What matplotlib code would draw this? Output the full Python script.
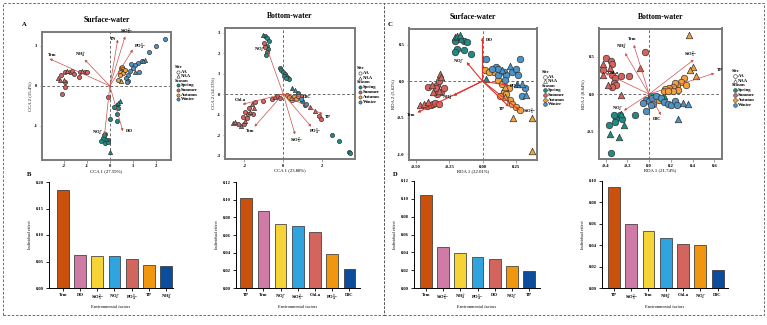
"""
CCA / RDA ordination plots with individual-effect bar charts
(surface vs bottom water).
"""

import matplotlib
matplotlib.use('Agg')
import matplotlib.pyplot as plt
from matplotlib.lines import Line2D
from matplotlib.patches import Rectangle
import numpy as np

plt.rcParams['font.family'] = ['Liberation Serif', 'DejaVu Serif']
plt.rcParams['font.weight'] = 'bold'
plt.rcParams['axes.unicode_minus'] = False
plt.rcParams['mathtext.fontset'] = 'custom'
plt.rcParams['mathtext.rm'] = 'Liberation Serif:bold'
plt.rcParams['mathtext.it'] = 'Liberation Serif:bold'
plt.rcParams['mathtext.bf'] = 'Liberation Serif:bold'
plt.rcParams['mathtext.default'] = 'rm'

# ---------------- data ----------------
NO2 = r'NO$_2^-$'
NH4 = r'NH$_4^+$'
SIO3 = r'SiO$_3^{2-}$'
PO4 = r'PO$_4^{3-}$'

# Panel A: CCA surface water  (x, y, site)
A_spring = [(0.42, -0.37, 'NAA'), (0.37, -0.43, 'NAA'), (0.32, -0.48, 'AA'), (0.23, -0.53, 'AA'),
            (0.34, -0.55, 'AA'), (0.17, -0.52, 'AA'), (0.29, -0.70, 'AA'), (-0.01, -0.82, 'AA'),
            (0.32, -0.87, 'AA'), (-0.23, -1.20, 'AA'), (-0.30, -1.30, 'AA'), (-0.16, -1.32, 'NAA'),
            (-0.06, -1.34, 'AA'), (-0.37, -1.38, 'AA'), (-0.23, -1.43, 'AA'), (-0.09, -1.40, 'AA'),
            (-0.26, -1.23, 'AA'), (0.0, -1.65, 'NAA')]
A_summer = [(-2.24, 0.20, 'NAA'), (-2.10, 0.28, 'AA'), (-1.95, 0.35, 'AA'), (-1.84, 0.38, 'NAA'),
            (-1.74, 0.34, 'AA'), (-1.64, 0.37, 'AA'), (-1.55, 0.30, 'AA'), (-1.98, 0.16, 'NAA'),
            (-2.16, 0.15, 'NAA'), (-1.95, 0.10, 'AA'), (-1.31, 0.34, 'AA'), (-1.21, 0.38, 'NAA'),
            (-1.09, 0.35, 'AA'), (-0.98, 0.35, 'AA'), (-1.35, 0.22, 'AA'), (-1.93, -0.03, 'AA'),
            (-2.07, -0.20, 'AA'), (-0.06, -0.28, 'AA')]
A_autumn = [(0.46, 0.45, 'AA'), (0.52, 0.47, 'AA'), (0.57, 0.43, 'AA'), (0.49, 0.38, 'AA'),
            (0.60, 0.38, 'AA'), (0.43, 0.35, 'AA'), (0.55, 0.33, 'AA'), (0.66, 0.40, 'AA'),
            (0.42, 0.28, 'AA'), (0.34, 0.16, 'AA'), (0.46, 0.12, 'NAA')]
A_winter = [(2.36, 1.18, 'AA'), (2.00, 0.99, 'AA'), (1.71, 0.85, 'AA'), (1.52, 0.66, 'NAA'),
            (1.38, 0.63, 'AA'), (1.21, 0.58, 'AA'), (1.09, 0.53, 'AA'), (0.99, 0.45, 'AA'),
            (0.85, 0.38, 'AA'), (0.78, 0.28, 'AA'), (0.70, 0.20, 'AA'), (0.80, 0.13, 'AA'),
            (1.09, 0.35, 'NAA'), (1.24, 0.35, 'AA'), (0.92, 0.55, 'AA'), (0.72, 0.10, 'AA'),
            (1.42, 0.62, 'NAA')]
A_arrows = [('Tem', -2.60, 0.68), (NH4, -1.09, 0.66), ('TN', 0.34, 1.16), (SIO3, 0.66, 1.24),
            (PO4, 0.99, 0.91), (NO2, -0.23, -1.22), ('DO', 0.56, -1.13)]

# Panel A2: CCA bottom water
A2_spring = [(-1.04, 2.88, 'NAA'), (-0.92, 2.81, 'AA'), (-0.82, 2.72, 'AA'), (-0.75, 2.59, 'AA'),
             (-0.83, 2.36, 'AA'), (-0.78, 2.20, 'AA'), (-0.82, 2.03, 'AA'), (-0.87, 1.90, 'AA'),
             (-0.17, 1.28, 'AA'), (-0.09, 1.15, 'AA'), (0.0, 1.06, 'AA'), (0.09, 0.96, 'AA'),
             (0.16, 0.89, 'AA'), (0.23, 0.80, 'AA'), (0.30, 0.72, 'AA'), (0.02, 0.89, 'AA'),
             (0.14, 0.76, 'AA'), (0.47, 0.28, 'NAA'), (0.75, 0.03, 'AA'), (0.99, -0.34, 'AA'),
             (1.13, -0.54, 'AA'), (2.52, -2.00, 'AA'), (2.87, -2.29, 'AA'), (3.39, -2.81, 'AA'),
             (3.46, -2.89, 'AA')]
A2_summer = [(-0.99, 2.47, 'AA'), (-0.92, 2.31, 'AA'), (-2.61, -1.43, 'NAA'), (-2.49, -1.35, 'NAA'),
             (-2.31, -1.48, 'AA'), (-2.17, -1.54, 'NAA'), (-2.03, -1.45, 'AA'), (-1.97, -1.32, 'NAA'),
             (-1.86, -1.19, 'AA'), (-1.79, -0.99, 'AA'), (-1.69, -0.89, 'NAA'), (-1.58, -0.99, 'AA'),
             (-1.48, -0.70, 'NAA'), (-2.09, -1.11, 'AA'), (-1.97, -0.89, 'AA'), (-1.76, -0.67, 'AA'),
             (-1.60, -0.50, 'NAA'), (-1.44, -0.41, 'AA'), (-1.04, -0.34, 'AA'), (-0.57, -0.24, 'AA'),
             (-0.43, -0.16, 'NAA'), (-0.30, -0.11, 'AA'), (-0.17, -0.21, 'AA'), (0.92, -0.08, 'AA'),
             (1.39, -0.62, 'NAA'), (1.62, -0.83, 'NAA'), (1.86, -1.06, 'AA'), (1.97, -1.22, 'AA')]
A2_autumn = [(0.17, -0.05, 'AA'), (0.30, -0.13, 'AA'), (0.40, -0.21, 'NAA'), (0.54, -0.11, 'AA'),
             (0.64, -0.24, 'AA'), (0.47, -0.31, 'AA'), (0.78, -0.08, 'AA')]
A2_winter = [(0.61, 0.20, 'NAA'), (0.92, -0.24, 'AA'), (1.17, -0.50, 'AA')]
A2_arrows = [(NO2, -0.78, 2.07), ('Chl-a', -2.09, -0.50), ('Tem', -1.48, -1.59), (SIO3, 0.61, -1.97),
             (PO4, 1.44, -1.59), ('TP', 2.03, -0.99), ('DIC', 0.87, -0.13)]

# Panel C: RDA surface water
C_spring = [(-0.21, 0.60, 'NAA'), (-0.19, 0.62, 'NAA'), (-0.18, 0.59, 'AA'), (-0.16, 0.58, 'NAA'),
            (-0.14, 0.55, 'AA'), (-0.21, 0.55, 'AA'), (-0.19, 0.44, 'AA'), (-0.21, 0.40, 'AA'),
            (-0.14, 0.43, 'AA'), (-0.09, 0.37, 'AA'), (0.03, 0.03, 'NAA'), (-0.17, 0.63, 'NAA'),
            (-0.12, 0.53, 'AA')]
C_summer = [(-0.41, -0.08, 'AA'), (-0.38, -0.05, 'NAA'), (-0.34, -0.06, 'AA'), (-0.32, 0.10, 'NAA'),
            (-0.31, 0.05, 'NAA'), (-0.33, 0.0, 'AA'), (-0.35, -0.10, 'AA'), (-0.33, -0.13, 'NAA'),
            (-0.31, -0.15, 'AA'), (-0.34, -0.17, 'AA'), (-0.37, -0.15, 'NAA'), (-0.29, -0.10, 'AA'),
            (-0.47, -0.33, 'NAA'), (-0.44, -0.32, 'NAA'), (-0.42, -0.34, 'AA'), (-0.39, -0.33, 'AA'),
            (-0.37, -0.32, 'AA'), (-0.36, -0.30, 'AA'), (-0.33, -0.31, 'AA'), (-0.41, -0.29, 'NAA')]
C_autumn = [(0.02, 0.15, 'AA'), (0.12, 0.01, 'AA'), (0.15, -0.04, 'AA'), (0.17, -0.08, 'NAA'),
            (0.20, -0.10, 'AA'), (0.16, -0.15, 'AA'), (0.13, -0.20, 'AA'), (0.17, -0.22, 'NAA'),
            (0.21, -0.26, 'AA'), (0.22, -0.31, 'AA'), (0.25, -0.35, 'AA'), (0.28, -0.39, 'AA'),
            (0.23, -0.51, 'NAA'), (0.37, -0.51, 'NAA'), (0.37, -0.96, 'NAA'), (0.18, -0.17, 'AA'),
            (0.09, 0.12, 'AA'), (0.05, 0.12, 'AA')]
C_winter = [(0.03, 0.30, 'AA'), (0.10, 0.19, 'AA'), (0.12, 0.17, 'AA'), (0.15, 0.15, 'NAA'),
            (0.16, 0.12, 'AA'), (0.18, 0.08, 'AA'), (0.22, 0.12, 'AA'), (0.25, 0.17, 'AA'),
            (0.27, 0.08, 'AA'), (0.30, -0.04, 'NAA'), (0.32, -0.10, 'AA'), (0.33, -0.19, 'NAA'),
            (0.21, 0.21, 'NAA'), (0.28, 0.30, 'AA'), (0.12, 0.08, 'AA'), (0.17, 0.01, 'AA'),
            (0.30, -0.20, 'AA'), (0.26, -0.04, 'NAA'), (0.07, 0.17, 'AA')]
C_arrows = [('DO', 0.0, 0.60), (NO2, -0.12, 0.26), ('Tem', -0.49, -0.43), (NH4, -0.22, -0.20),
            ('TP', 0.20, -0.35), (SIO3, 0.28, -0.40), (PO4, 0.20, -0.06)]

# Panel C2: RDA bottom water
C2_spring = [(0.14, -0.02, 'NAA'), (0.02, -0.02, 'AA'), (-0.27, -0.28, 'AA'), (-0.30, -0.32, 'AA'),
             (-0.25, -0.34, 'AA'), (-0.31, -0.37, 'AA'), (-0.37, -0.41, 'AA'), (-0.23, -0.41, 'NAA'),
             (-0.13, -0.28, 'AA'), (-0.36, -0.54, 'NAA'), (-0.28, -0.58, 'NAA'), (-0.35, -0.79, 'AA'),
             (-0.26, -0.27, 'NAA'), (-0.32, -0.28, 'AA')]
C2_summer = [(-0.40, 0.49, 'AA'), (-0.42, 0.40, 'NAA'), (-0.35, 0.44, 'AA'), (-0.34, 0.40, 'AA'),
             (-0.42, 0.32, 'AA'), (-0.42, 0.26, 'NAA'), (-0.36, 0.35, 'NAA'), (-0.34, 0.26, 'AA'),
             (-0.31, 0.22, 'AA'), (-0.38, 0.12, 'NAA'), (-0.32, 0.15, 'AA'), (-0.30, 0.12, 'AA'),
             (-0.34, 0.10, 'AA'), (-0.26, 0.24, 'AA'), (-0.26, -0.01, 'NAA'), (-0.18, 0.24, 'AA'),
             (-0.04, 0.57, 'AA'), (-0.08, 0.35, 'NAA')]
C2_autumn = [(0.37, 0.79, 'NAA'), (0.40, 0.37, 'NAA'), (0.38, 0.32, 'NAA'), (0.43, 0.24, 'NAA'),
             (0.32, 0.22, 'AA'), (0.29, 0.16, 'AA'), (0.26, 0.12, 'AA'), (0.24, 0.15, 'AA'),
             (0.22, 0.10, 'AA'), (0.18, 0.08, 'AA'), (0.15, 0.07, 'AA'), (0.14, 0.04, 'AA'),
             (0.27, 0.06, 'AA'), (0.34, 0.12, 'AA'), (0.22, 0.04, 'AA'), (0.17, 0.04, 'AA'),
             (0.09, -0.08, 'AA')]
C2_winter = [(-0.03, -0.08, 'AA'), (0.0, -0.09, 'AA'), (0.03, -0.05, 'AA'), (0.04, -0.13, 'AA'),
             (0.02, -0.15, 'AA'), (0.06, -0.03, 'AA'), (0.11, -0.05, 'AA'), (0.14, -0.10, 'AA'),
             (0.17, -0.13, 'AA'), (0.20, -0.14, 'AA'), (0.24, -0.09, 'AA'), (0.26, -0.14, 'AA'),
             (0.31, -0.12, 'NAA'), (0.36, -0.13, 'NAA'), (0.27, -0.34, 'NAA'), (-0.03, -0.23, 'AA'),
             (-0.06, -0.12, 'AA')]
C2_arrows = [('Tem', -0.14, 0.66), (NH4, -0.22, 0.55), ('Chl-a', -0.40, 0.28), (SIO3, 0.41, 0.46),
             ('TP', 0.60, 0.28), (NO2, -0.23, -0.22), ('DIC', 0.11, -0.28)]

# Individual effects (bar panels)
B_factors = ['Tem', 'DO', SIO3, NO2, PO4, 'TP', NH4]
B_effect = [0.184, 0.063, 0.060, 0.060, 0.055, 0.043, 0.041]
B2_factors = ['TP', 'Tem', NO2, SIO3, 'Chl-a', PO4, 'DIC']
B2_effect = [0.102, 0.087, 0.072, 0.070, 0.063, 0.0385, 0.021]
D_factors = ['Tem', SIO3, NH4, PO4, 'DO', NO2, 'TP']
D_effect = [0.104, 0.046, 0.039, 0.035, 0.032, 0.025, 0.0186]
D2_factors = ['TP', SIO3, 'Tem', NH4, 'Chl-a', NO2, 'DIC']
D2_effect = [0.094, 0.060, 0.053, 0.047, 0.041, 0.040, 0.017]

# ---------------- style ----------------
W, H = 767, 325
SEASON_COLORS = {'Spring': '#1E8C84', 'Summer': '#D8625C', 'Autumn': '#F2A23C', 'Winter': '#4C93C6'}
SITE_MARKERS = {'AA': 'o', 'NAA': '^'}
BAR_COLORS = ['#C9510C', '#CF7BA6', '#F7D436', '#2FA4DF', '#D2665E', '#F1970F', '#0C4C9C']
FRAME = '#7A7A7A'

fig = plt.figure(figsize=(W / 100, H / 100), dpi=100)


def px_axes(l, t, r, b):
    return fig.add_axes([l / W, 1 - b / H, (r - l) / W, (b - t) / H])


def fig_text(x, y, s, **kw):
    fig.text(x / W, 1 - y / H, s, **kw)


def ordination(ax, seasons, arrows, xlim, ylim, xticks, yticks, xfmt, yfmt,
               xlabel, ylabel, title, size, arrow_color, arrow_lw, nudges=None):
    nudges = nudges or {}
    for season, pts in seasons.items():
        for site, m in SITE_MARKERS.items():
            sel = [p for p in pts if p[2] == site]
            if not sel:
                continue
            ax.scatter([p[0] for p in sel], [p[1] for p in sel], s=size, marker=m,
                       color=SEASON_COLORS[season], edgecolor='#333333', linewidth=0.5,
                       zorder=3)
    ax.axhline(0, color='#333333', lw=0.5, ls=(0, (4, 3)), zorder=1)
    ax.axvline(0, color='#333333', lw=0.5, ls=(0, (4, 3)), zorder=1)
    xr = xlim[1] - xlim[0]
    yr = ylim[1] - ylim[0]
    for name, x, y in arrows:
        ax.annotate('', xy=(x, y), xytext=(0, 0),
                    arrowprops=dict(arrowstyle='-|>', color=arrow_color, lw=arrow_lw,
                                    mutation_scale=3.5, shrinkA=0, shrinkB=0), zorder=4)
        d = np.hypot(x / xr, y / yr)
        off = nudges.get(name, (4.5 * (x / xr) / d, 4.5 * (y / yr) / d))
        ax.annotate(name, xy=(x, y), xytext=off, textcoords='offset points',
                    fontsize=3.3, ha='center', va='center', zorder=5)
    ax.set_xlim(xlim)
    ax.set_ylim(ylim)
    ax.set_xticks(xticks)
    ax.set_xticklabels([xfmt % v for v in xticks])
    ax.set_yticks(yticks)
    ax.set_yticklabels([yfmt % v for v in yticks])
    ax.tick_params(labelsize=3.4, length=1.8, width=0.5, pad=1.5, color=FRAME)
    for s in ax.spines.values():
        s.set_color(FRAME)
        s.set_linewidth(1.4)
    ax.set_xlabel(xlabel, fontsize=3.4, labelpad=0.5)
    ax.set_ylabel(ylabel, fontsize=3.4, labelpad=1)
    ax.set_title(title, fontsize=5.5, fontweight='bold', pad=7)


def key(x, y, step, msize):
    fig_text(x, y, 'Site', fontsize=3.3, va='center')
    rows = [('AA', 'o', 'white'), ('NAA', '^', 'white')]
    for i, (lab, m, c) in enumerate(rows):
        yy = y + step * (i + 1)
        fig.add_artist(Line2D([(x + 2.5) / W], [1 - yy / H], marker=m, color='none',
                              markerfacecolor=c, markeredgecolor='#333333',
                              markeredgewidth=0.4, markersize=msize))
        fig_text(x + 5.5, yy, lab, fontsize=3.3, va='center')
    fig_text(x, y + step * 3, 'Season', fontsize=3.3, va='center')
    for i, (lab, c) in enumerate(SEASON_COLORS.items()):
        yy = y + step * (i + 4)
        fig.add_artist(Line2D([(x + 2.5) / W], [1 - yy / H], marker='o', color='none',
                              markerfacecolor=c, markeredgecolor='#333333',
                              markeredgewidth=0.4, markersize=msize))
        fig_text(x + 5.5, yy, lab, fontsize=3.3, va='center')


def bars(ax, labels, values, ymax, ystep, xlim):
    x = np.arange(len(values))
    ax.bar(x, values, width=0.68, color=BAR_COLORS, edgecolor='#2b2b2b', linewidth=0.5)
    ax.set_xlim(xlim)
    ax.set_ylim(0, ymax)
    yt = np.arange(0, ymax + 1e-9, ystep)
    ax.set_yticks(yt)
    ax.set_yticklabels(['%.2f' % v for v in yt])
    ax.set_xticks(x)
    ax.set_xticklabels(labels)
    for s in ['top', 'right']:
        ax.spines[s].set_visible(False)
    for s in ['left', 'bottom']:
        ax.spines[s].set_linewidth(0.7)
    ax.tick_params(labelsize=3.3, length=2, width=0.6, pad=1.5)
    ax.set_xlabel('Environmental factors', fontsize=3.2, labelpad=1)
    ax.set_ylabel('Individual effect', fontsize=3.2, labelpad=3)


# ---------------- ordination panels ----------------
axA = px_axes(42, 32, 171, 159.5)
ordination(axA, {'Spring': A_spring, 'Summer': A_summer, 'Autumn': A_autumn, 'Winter': A_winter},
           A_arrows, (-2.93, 2.64), (-1.84, 1.35), [-2, -1, 0, 1, 2], [1, 0, -1], '%d', '%d',
           'CCA 1 (27.59%)', 'CCA 2 (15.4%)', 'Surface-water', 9, '#C9504A', 0.5,
           nudges={'TN': (-3.5, 0.5), SIO3: (1, 3.5), PO4: (5, 2), 'Tem': (2, 3),
                   NO2: (-5, 1), 'DO': (4.5, 0)})
key(175, 67, 4.6, 2.3)

axA2 = px_axes(225, 28, 355, 159)
ordination(axA2, {'Spring': A2_spring, 'Summer': A2_summer, 'Autumn': A2_autumn, 'Winter': A2_winter},
           A2_arrows, (-3.0, 3.7), (-3.17, 3.22), [-2, 0, 2], [3, 2, 1, 0, -1, -2, -3], '%d', '%d',
           'CCA 1 (23.88%)', 'CCA 2 (14.13%)', 'Bottom-water', 9, '#C9504A', 0.5,
           nudges={NO2: (-6, 1), 'Chl-a': (-2, 3), 'DIC': (5, 0)})
key(357, 68, 4.8, 2.3)

axC = px_axes(409, 28.5, 537, 160)
ordination(axC, {'Spring': C_spring, 'Summer': C_summer, 'Autumn': C_autumn, 'Winter': C_winter},
           C_arrows, (-0.553, 0.41), (-1.08, 0.72), [-0.5, -0.25, 0, 0.25], [0.5, 0, -0.5, -1.0],
           '%.2f', '%.1f', 'RDA 1 (22.01%)', 'RDA 2 (5.62%)', 'Surface-water', 22, '#E0352F', 0.8,
           nudges={'DO': (5, -2), NO2: (-6, 0), 'TP': (-5, -2), SIO3: (7, -1)})
key(542, 72, 4.6, 2.7)

axC2 = px_axes(599, 28.5, 722, 159)
ordination(axC2, {'Spring': C2_spring, 'Summer': C2_summer, 'Autumn': C2_autumn, 'Winter': C2_winter},
           C2_arrows, (-0.46, 0.67), (-0.87, 0.88), [-0.4, -0.2, 0, 0.2, 0.4, 0.6], [0.5, 0, -0.5],
           '%.1f', '%.1f', 'RDA 1 (21.74%)', 'RDA 2 (8.84%)', 'Bottom-water', 22, '#D0514C', 0.5,
           nudges={'Chl-a': (6, 0), SIO3: (-2, 4), 'TP': (4, 2), NO2: (-5, 1), 'DIC': (-3, -3)})
key(732, 71, 4.8, 2.7)

# ---------------- bar panels ----------------
bars(px_axes(49, 182, 173, 288), B_factors, B_effect, 0.20, 0.05, (-0.8, 6.4))
bars(px_axes(236, 182, 360, 288), B2_factors, B2_effect, 0.12, 0.02, (-0.6, 6.62))
bars(px_axes(414, 181, 540, 288), D_factors, D_effect, 0.12, 0.02, (-0.68, 6.62))
bars(px_axes(602, 181, 728, 288), D2_factors, D2_effect, 0.10, 0.02, (-0.69, 6.6))

# panel letters
for lab, x, y in [('A', 22, 25), ('B', 27, 174), ('C', 388, 25), ('D', 393, 174)]:
    fig_text(x, y, lab, fontsize=4.8, fontweight='bold', va='center')

# dashed frames
for l, r in [(3, 384), (384, 764)]:
    fig.add_artist(Rectangle((l / W, 1 - 315 / H), (r - l) / W, 312 / H, fill=False,
                             ec='#555555', lw=0.6, ls=(0, (3, 2)), transform=fig.transFigure))

plt.savefig('out.png', dpi=100)
plt.close()
